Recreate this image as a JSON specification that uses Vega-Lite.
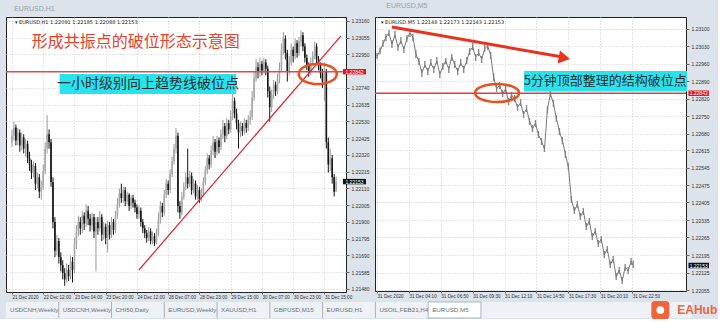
{
"$schema": "https://vega.github.io/schema/vega-lite/v6.json",
"background": "#dce3ea",
"padding": {"left": 4, "top": 1, "right": 0, "bottom": 0},
"config": {
  "view": {"stroke": "#222222", "strokeWidth": 1, "fill": "white"},
  "axis": {"labelOverlap": false, "labelSeparation": 0, "labelFlush": false, "labelBound": false, "tickCount": 60},
  "title": {"font": "Liberation Sans", "fontWeight": "normal", "fontSize": 7, "color": "#97a1ab", "anchor": "start"}
},
"datasets": {
"h1": [
{"i":0,"o":1.2240,"h":1.2248,"l":1.2237,"c":1.2244},
{"i":1,"o":1.2244,"h":1.2253,"l":1.2241,"c":1.2249},
{"i":2,"o":1.2249,"h":1.2251,"l":1.2238,"c":1.2241},
{"i":3,"o":1.2241,"h":1.2249,"l":1.2238,"c":1.2246},
{"i":4,"o":1.2246,"h":1.2248,"l":1.2234,"c":1.2238},
{"i":5,"o":1.2238,"h":1.2246,"l":1.2235,"c":1.2243},
{"i":6,"o":1.2243,"h":1.2245,"l":1.2233,"c":1.2236},
{"i":7,"o":1.2236,"h":1.2242,"l":1.2231,"c":1.2239},
{"i":8,"o":1.2239,"h":1.2241,"l":1.2227,"c":1.2230},
{"i":9,"o":1.2230,"h":1.2234,"l":1.2222,"c":1.2226},
{"i":10,"o":1.2226,"h":1.2229,"l":1.2217,"c":1.2221},
{"i":11,"o":1.2221,"h":1.2228,"l":1.2218,"c":1.2225},
{"i":12,"o":1.2225,"h":1.2227,"l":1.2210,"c":1.2214},
{"i":13,"o":1.2214,"h":1.2221,"l":1.2211,"c":1.2218},
{"i":14,"o":1.2218,"h":1.2220,"l":1.2205,"c":1.2209},
{"i":15,"o":1.2209,"h":1.2216,"l":1.2204,"c":1.2212},
{"i":16,"o":1.2212,"h":1.2226,"l":1.2210,"c":1.2222},
{"i":17,"o":1.2222,"h":1.2240,"l":1.2220,"c":1.2236},
{"i":18,"o":1.2236,"h":1.2257,"l":1.2233,"c":1.2245},
{"i":19,"o":1.2245,"h":1.2248,"l":1.2236,"c":1.2240},
{"i":20,"o":1.2240,"h":1.2242,"l":1.2212,"c":1.2215},
{"i":21,"o":1.2215,"h":1.2218,"l":1.2186,"c":1.2190},
{"i":22,"o":1.2190,"h":1.2193,"l":1.2168,"c":1.2172},
{"i":23,"o":1.2172,"h":1.2182,"l":1.2169,"c":1.2178},
{"i":24,"o":1.2178,"h":1.2180,"l":1.2164,"c":1.2168},
{"i":25,"o":1.2168,"h":1.2171,"l":1.2159,"c":1.2163},
{"i":26,"o":1.2163,"h":1.2166,"l":1.2154,"c":1.2158},
{"i":27,"o":1.2158,"h":1.2161,"l":1.2150,"c":1.2154},
{"i":28,"o":1.2154,"h":1.2164,"l":1.2152,"c":1.2160},
{"i":29,"o":1.2160,"h":1.2163,"l":1.2153,"c":1.2156},
{"i":30,"o":1.2156,"h":1.2169,"l":1.2154,"c":1.2165},
{"i":31,"o":1.2165,"h":1.2168,"l":1.2152,"c":1.2160},
{"i":32,"o":1.2160,"h":1.2180,"l":1.2158,"c":1.2176},
{"i":33,"o":1.2176,"h":1.2188,"l":1.2173,"c":1.2184},
{"i":34,"o":1.2184,"h":1.2194,"l":1.2181,"c":1.2190},
{"i":35,"o":1.2190,"h":1.2193,"l":1.2182,"c":1.2186},
{"i":36,"o":1.2186,"h":1.2197,"l":1.2183,"c":1.2194},
{"i":37,"o":1.2194,"h":1.2196,"l":1.2185,"c":1.2189},
{"i":38,"o":1.2189,"h":1.2201,"l":1.2187,"c":1.2197},
{"i":39,"o":1.2197,"h":1.2200,"l":1.2188,"c":1.2192},
{"i":40,"o":1.2192,"h":1.2195,"l":1.2184,"c":1.2188},
{"i":41,"o":1.2188,"h":1.2196,"l":1.2185,"c":1.2193},
{"i":42,"o":1.2193,"h":1.2195,"l":1.2180,"c":1.2184},
{"i":43,"o":1.2184,"h":1.2193,"l":1.2159,"c":1.2190},
{"i":44,"o":1.2190,"h":1.2193,"l":1.2182,"c":1.2186},
{"i":45,"o":1.2186,"h":1.2197,"l":1.2184,"c":1.2193},
{"i":46,"o":1.2193,"h":1.2195,"l":1.2178,"c":1.2182},
{"i":47,"o":1.2182,"h":1.2190,"l":1.2179,"c":1.2187},
{"i":48,"o":1.2187,"h":1.2189,"l":1.2176,"c":1.2180},
{"i":49,"o":1.2180,"h":1.2191,"l":1.2171,"c":1.2188},
{"i":50,"o":1.2188,"h":1.2190,"l":1.2179,"c":1.2182},
{"i":51,"o":1.2182,"h":1.2193,"l":1.2180,"c":1.2190},
{"i":52,"o":1.2190,"h":1.2192,"l":1.2182,"c":1.2185},
{"i":53,"o":1.2185,"h":1.2197,"l":1.2183,"c":1.2194},
{"i":54,"o":1.2194,"h":1.2205,"l":1.2192,"c":1.2201},
{"i":55,"o":1.2201,"h":1.2211,"l":1.2199,"c":1.2208},
{"i":56,"o":1.2208,"h":1.2214,"l":1.2202,"c":1.2205},
{"i":57,"o":1.2205,"h":1.2212,"l":1.2202,"c":1.2210},
{"i":58,"o":1.2210,"h":1.2212,"l":1.2200,"c":1.2203},
{"i":59,"o":1.2203,"h":1.2209,"l":1.2201,"c":1.2207},
{"i":60,"o":1.2207,"h":1.2208,"l":1.2197,"c":1.2200},
{"i":61,"o":1.2200,"h":1.2207,"l":1.2198,"c":1.2205},
{"i":62,"o":1.2205,"h":1.2207,"l":1.2199,"c":1.2202},
{"i":63,"o":1.2202,"h":1.2204,"l":1.2196,"c":1.2199},
{"i":64,"o":1.2199,"h":1.2201,"l":1.2192,"c":1.2195},
{"i":65,"o":1.2195,"h":1.2200,"l":1.2192,"c":1.2197},
{"i":66,"o":1.2197,"h":1.2199,"l":1.2187,"c":1.2190},
{"i":67,"o":1.2190,"h":1.2192,"l":1.2183,"c":1.2186},
{"i":68,"o":1.2186,"h":1.2188,"l":1.2180,"c":1.2183},
{"i":69,"o":1.2183,"h":1.2185,"l":1.2177,"c":1.2180},
{"i":70,"o":1.2180,"h":1.2187,"l":1.2178,"c":1.2184},
{"i":71,"o":1.2184,"h":1.2186,"l":1.2176,"c":1.2178},
{"i":72,"o":1.2178,"h":1.2184,"l":1.2176,"c":1.2181},
{"i":73,"o":1.2181,"h":1.2183,"l":1.2175,"c":1.2177},
{"i":74,"o":1.2177,"h":1.2186,"l":1.2176,"c":1.2183},
{"i":75,"o":1.2183,"h":1.2196,"l":1.2181,"c":1.2192},
{"i":76,"o":1.2192,"h":1.2203,"l":1.2189,"c":1.2200},
{"i":77,"o":1.2200,"h":1.2202,"l":1.2193,"c":1.2196},
{"i":78,"o":1.2196,"h":1.2210,"l":1.2194,"c":1.2207},
{"i":79,"o":1.2207,"h":1.2217,"l":1.2205,"c":1.2214},
{"i":80,"o":1.2214,"h":1.2216,"l":1.2207,"c":1.2210},
{"i":81,"o":1.2210,"h":1.2223,"l":1.2208,"c":1.2220},
{"i":82,"o":1.2220,"h":1.2231,"l":1.2218,"c":1.2228},
{"i":83,"o":1.2228,"h":1.2239,"l":1.2226,"c":1.2236},
{"i":84,"o":1.2236,"h":1.2249,"l":1.2233,"c":1.2244},
{"i":85,"o":1.2244,"h":1.2246,"l":1.2196,"c":1.2200},
{"i":86,"o":1.2200,"h":1.2203,"l":1.2192,"c":1.2196},
{"i":87,"o":1.2196,"h":1.2209,"l":1.2194,"c":1.2206},
{"i":88,"o":1.2206,"h":1.2215,"l":1.2204,"c":1.2212},
{"i":89,"o":1.2212,"h":1.2221,"l":1.2210,"c":1.2218},
{"i":90,"o":1.2218,"h":1.2236,"l":1.2211,"c":1.2214},
{"i":91,"o":1.2214,"h":1.2222,"l":1.2212,"c":1.2219},
{"i":92,"o":1.2219,"h":1.2221,"l":1.2207,"c":1.2210},
{"i":93,"o":1.2210,"h":1.2217,"l":1.2208,"c":1.2214},
{"i":94,"o":1.2214,"h":1.2216,"l":1.2204,"c":1.2206},
{"i":95,"o":1.2206,"h":1.2213,"l":1.2204,"c":1.2210},
{"i":96,"o":1.2210,"h":1.2212,"l":1.2202,"c":1.2204},
{"i":97,"o":1.2204,"h":1.2211,"l":1.2203,"c":1.2208},
{"i":98,"o":1.2208,"h":1.2218,"l":1.2206,"c":1.2215},
{"i":99,"o":1.2215,"h":1.2225,"l":1.2213,"c":1.2222},
{"i":100,"o":1.2222,"h":1.2233,"l":1.2220,"c":1.2230},
{"i":101,"o":1.2230,"h":1.2232,"l":1.2223,"c":1.2226},
{"i":102,"o":1.2226,"h":1.2238,"l":1.2224,"c":1.2235},
{"i":103,"o":1.2235,"h":1.2244,"l":1.2232,"c":1.2240},
{"i":104,"o":1.2240,"h":1.2242,"l":1.2230,"c":1.2234},
{"i":105,"o":1.2234,"h":1.2244,"l":1.2232,"c":1.2241},
{"i":106,"o":1.2241,"h":1.2243,"l":1.2233,"c":1.2237},
{"i":107,"o":1.2237,"h":1.2248,"l":1.2235,"c":1.2245},
{"i":108,"o":1.2245,"h":1.2254,"l":1.2242,"c":1.2250},
{"i":109,"o":1.2250,"h":1.2252,"l":1.2240,"c":1.2244},
{"i":110,"o":1.2244,"h":1.2255,"l":1.2242,"c":1.2252},
{"i":111,"o":1.2252,"h":1.2254,"l":1.2245,"c":1.2248},
{"i":112,"o":1.2248,"h":1.2260,"l":1.2246,"c":1.2256},
{"i":113,"o":1.2256,"h":1.2271,"l":1.2254,"c":1.2266},
{"i":114,"o":1.2266,"h":1.2268,"l":1.2255,"c":1.2258},
{"i":115,"o":1.2258,"h":1.2261,"l":1.2248,"c":1.2252},
{"i":116,"o":1.2252,"h":1.2254,"l":1.2236,"c":1.2246},
{"i":117,"o":1.2246,"h":1.2253,"l":1.2243,"c":1.2250},
{"i":118,"o":1.2250,"h":1.2252,"l":1.2244,"c":1.2247},
{"i":119,"o":1.2247,"h":1.2255,"l":1.2245,"c":1.2252},
{"i":120,"o":1.2252,"h":1.2254,"l":1.2246,"c":1.2249},
{"i":121,"o":1.2249,"h":1.2257,"l":1.2247,"c":1.2254},
{"i":122,"o":1.2254,"h":1.2260,"l":1.2251,"c":1.2256},
{"i":123,"o":1.2256,"h":1.2272,"l":1.2254,"c":1.2268},
{"i":124,"o":1.2268,"h":1.2284,"l":1.2266,"c":1.2280},
{"i":125,"o":1.2280,"h":1.2292,"l":1.2278,"c":1.2287},
{"i":126,"o":1.2287,"h":1.2290,"l":1.2280,"c":1.2284},
{"i":127,"o":1.2284,"h":1.2293,"l":1.2281,"c":1.2289},
{"i":128,"o":1.2289,"h":1.2291,"l":1.2282,"c":1.2285},
{"i":129,"o":1.2285,"h":1.2293,"l":1.2283,"c":1.2290},
{"i":130,"o":1.2290,"h":1.2292,"l":1.2282,"c":1.2286},
{"i":131,"o":1.2286,"h":1.2288,"l":1.2268,"c":1.2272},
{"i":132,"o":1.2272,"h":1.2275,"l":1.2253,"c":1.2262},
{"i":133,"o":1.2262,"h":1.2273,"l":1.2259,"c":1.2270},
{"i":134,"o":1.2270,"h":1.2279,"l":1.2267,"c":1.2276},
{"i":135,"o":1.2276,"h":1.2278,"l":1.2269,"c":1.2272},
{"i":136,"o":1.2272,"h":1.2283,"l":1.2270,"c":1.2280},
{"i":137,"o":1.2280,"h":1.2290,"l":1.2277,"c":1.2286},
{"i":138,"o":1.2286,"h":1.2302,"l":1.2284,"c":1.2298},
{"i":139,"o":1.2298,"h":1.2309,"l":1.2295,"c":1.2305},
{"i":140,"o":1.2305,"h":1.2307,"l":1.2292,"c":1.2296},
{"i":141,"o":1.2296,"h":1.2298,"l":1.2278,"c":1.2284},
{"i":142,"o":1.2284,"h":1.2294,"l":1.2282,"c":1.2290},
{"i":143,"o":1.2290,"h":1.2302,"l":1.2288,"c":1.2298},
{"i":144,"o":1.2298,"h":1.2300,"l":1.2290,"c":1.2294},
{"i":145,"o":1.2294,"h":1.2305,"l":1.2292,"c":1.2302},
{"i":146,"o":1.2302,"h":1.2304,"l":1.2293,"c":1.2296},
{"i":147,"o":1.2296,"h":1.2306,"l":1.2294,"c":1.2303},
{"i":148,"o":1.2303,"h":1.2310,"l":1.2300,"c":1.2307},
{"i":149,"o":1.2307,"h":1.2309,"l":1.2297,"c":1.2300},
{"i":150,"o":1.2300,"h":1.2302,"l":1.2290,"c":1.2293},
{"i":151,"o":1.2293,"h":1.2295,"l":1.2285,"c":1.2288},
{"i":152,"o":1.2288,"h":1.2290,"l":1.2281,"c":1.2284},
{"i":153,"o":1.2284,"h":1.2293,"l":1.2282,"c":1.2290},
{"i":154,"o":1.2290,"h":1.2297,"l":1.2288,"c":1.2294},
{"i":155,"o":1.2294,"h":1.2303,"l":1.2292,"c":1.2300},
{"i":156,"o":1.2300,"h":1.2302,"l":1.2289,"c":1.2292},
{"i":157,"o":1.2292,"h":1.2294,"l":1.2285,"c":1.2288},
{"i":158,"o":1.2288,"h":1.2290,"l":1.2280,"c":1.2283},
{"i":159,"o":1.2283,"h":1.2286,"l":1.2274,"c":1.2278},
{"i":160,"o":1.2278,"h":1.2290,"l":1.2266,"c":1.2284},
{"i":161,"o":1.2284,"h":1.2286,"l":1.2236,"c":1.2240},
{"i":162,"o":1.2240,"h":1.2243,"l":1.2221,"c":1.2226},
{"i":163,"o":1.2226,"h":1.2236,"l":1.2222,"c":1.2230},
{"i":164,"o":1.2230,"h":1.2232,"l":1.2214,"c":1.2218},
{"i":165,"o":1.2218,"h":1.2220,"l":1.2206,"c":1.2209},
{"i":166,"o":1.22091,"h":1.22185,"l":1.22088,"c":1.22153}
],
"m5": [
{"i":0,"p":1.22991,"l":1.22979,"h":1.23003},{"i":3,"p":1.23011,"l":1.22997,"h":1.23025},{"i":6,"p":1.23039,"l":1.23027,"h":1.23055},
{"i":9,"p":1.23067,"l":1.23051,"h":1.23079},{"i":12,"p":1.23083,"l":1.23071,"h":1.23095},{"i":15,"p":1.23039,"l":1.23023,"h":1.23055},
{"i":18,"p":1.23075,"l":1.23063,"h":1.23091},{"i":21,"p":1.23027,"l":1.23011,"h":1.23039},{"i":24,"p":1.23051,"l":1.23039,"h":1.23067},
{"i":27,"p":1.23019,"l":1.23003,"h":1.23031},{"i":30,"p":1.23059,"l":1.23047,"h":1.23075},{"i":33,"p":1.23083,"l":1.23067,"h":1.23095},
{"i":36,"p":1.23067,"l":1.23051,"h":1.23079},{"i":39,"p":1.22999,"l":1.22983,"h":1.23015},{"i":42,"p":1.22971,"l":1.22955,"h":1.22983},
{"i":45,"p":1.22923,"l":1.22907,"h":1.22939},{"i":48,"p":1.22955,"l":1.22943,"h":1.22971},{"i":51,"p":1.22931,"l":1.22915,"h":1.22943},
{"i":54,"p":1.22963,"l":1.22951,"h":1.22979},{"i":57,"p":1.22939,"l":1.22923,"h":1.22951},{"i":60,"p":1.22971,"l":1.22959,"h":1.22987},
{"i":63,"p":1.22919,"l":1.22903,"h":1.22931},{"i":66,"p":1.22947,"l":1.22935,"h":1.22963},{"i":69,"p":1.22971,"l":1.22959,"h":1.22983},
{"i":72,"p":1.22939,"l":1.22923,"h":1.22951},{"i":75,"p":1.22987,"l":1.22971,"h":1.22999},{"i":78,"p":1.22955,"l":1.22943,"h":1.22971},
{"i":81,"p":1.22931,"l":1.22915,"h":1.22943},{"i":84,"p":1.22963,"l":1.22951,"h":1.22979},{"i":87,"p":1.22939,"l":1.22923,"h":1.22951},
{"i":90,"p":1.22971,"l":1.22959,"h":1.22987},{"i":93,"p":1.23011,"l":1.22995,"h":1.23023},{"i":96,"p":1.23027,"l":1.23015,"h":1.23043},
{"i":99,"p":1.22987,"l":1.22971,"h":1.22999},{"i":102,"p":1.23003,"l":1.22991,"h":1.23019},{"i":105,"p":1.22979,"l":1.22963,"h":1.22991},
{"i":108,"p":1.23019,"l":1.23007,"h":1.23035},{"i":111,"p":1.23031,"l":1.23015,"h":1.23043},{"i":114,"p":1.22995,"l":1.22979,"h":1.23007},
{"i":117,"p":1.22907,"l":1.22891,"h":1.22923},{"i":120,"p":1.22859,"l":1.22847,"h":1.22875},{"i":123,"p":1.22875,"l":1.22859,"h":1.22887},
{"i":126,"p":1.22839,"l":1.22827,"h":1.22855},{"i":129,"p":1.22859,"l":1.22843,"h":1.22871},{"i":132,"p":1.22807,"l":1.22795,"h":1.22823},
{"i":135,"p":1.22835,"l":1.22819,"h":1.22847},{"i":138,"p":1.22819,"l":1.22807,"h":1.22835},{"i":141,"p":1.22787,"l":1.22771,"h":1.22799},
{"i":144,"p":1.22803,"l":1.22791,"h":1.22819},{"i":147,"p":1.22759,"l":1.22743,"h":1.22771},{"i":150,"p":1.22779,"l":1.22767,"h":1.22795},
{"i":153,"p":1.22731,"l":1.22715,"h":1.22743},{"i":156,"p":1.22699,"l":1.22687,"h":1.22715},{"i":159,"p":1.22723,"l":1.22707,"h":1.22735},
{"i":162,"p":1.22675,"l":1.22663,"h":1.22691},{"i":165,"p":1.22651,"l":1.22635,"h":1.22663},{"i":168,"p":1.22619,"l":1.22607,"h":1.22635},
{"i":171,"p":1.22779,"l":1.22763,"h":1.22791},{"i":174,"p":1.22839,"l":1.22827,"h":1.22855},{"i":177,"p":1.22803,"l":1.22787,"h":1.22815},
{"i":180,"p":1.22739,"l":1.22727,"h":1.22755},{"i":183,"p":1.22691,"l":1.22675,"h":1.22703},{"i":186,"p":1.22651,"l":1.22639,"h":1.22667},
{"i":189,"p":1.22599,"l":1.22583,"h":1.22611},{"i":192,"p":1.22547,"l":1.22535,"h":1.22563},{"i":195,"p":1.22419,"l":1.22403,"h":1.22431},
{"i":198,"p":1.22371,"l":1.22359,"h":1.22387},{"i":201,"p":1.22399,"l":1.22383,"h":1.22411},{"i":204,"p":1.22347,"l":1.22335,"h":1.22363},
{"i":207,"p":1.22371,"l":1.22355,"h":1.22383},{"i":210,"p":1.22307,"l":1.22295,"h":1.22323},{"i":213,"p":1.22331,"l":1.22315,"h":1.22343},
{"i":216,"p":1.22267,"l":1.22255,"h":1.22283},{"i":219,"p":1.22291,"l":1.22275,"h":1.22303},{"i":222,"p":1.22239,"l":1.22227,"h":1.22255},
{"i":225,"p":1.22259,"l":1.22243,"h":1.22271},{"i":228,"p":1.22195,"l":1.22183,"h":1.22211},{"i":231,"p":1.22219,"l":1.22203,"h":1.22231},
{"i":234,"p":1.22155,"l":1.22143,"h":1.22171},{"i":237,"p":1.22179,"l":1.22163,"h":1.22191},{"i":240,"p":1.22107,"l":1.22095,"h":1.22123},
{"i":243,"p":1.22135,"l":1.22119,"h":1.22147},{"i":246,"p":1.22091,"l":1.22079,"h":1.22107},{"i":249,"p":1.22147,"l":1.22131,"h":1.22159},
{"i":252,"p":1.22131,"l":1.22119,"h":1.22147},{"i":255,"p":1.22171,"l":1.22155,"h":1.22183},{"i":257,"p":1.22153,"l":1.22143,"h":1.22173}
]
},
"vconcat": [
{
"hconcat": [
{
"title": {"text": "EURUSD,H1", "offset": 5, "dx": 9},
"width": 340,
"height": 275,
"layer": [
{
"data": {"name": "h1"},
"mark": {"type": "rule", "strokeWidth": 1},
"encoding": {
"x": {"field": "i", "type": "quantitative", "scale": {"domain": [-0.5, 168.5], "nice": false, "zero": false},
"axis": {"values": [0,16,32,48,64,80,96,112,128,144,160], "tickCount": 60, "labelExpr": "['21 Dec 2020','22 Dec 12:00','23 Dec 04:00','23 Dec 20:00','24 Dec 12:00','28 Dec 07:00','28 Dec 23:00','29 Dec 15:00','30 Dec 07:00','30 Dec 23:00','31 Dec 15:00'][datum.value/16]", "title": null, "labelFont": "Liberation Sans", "labelFontSize": 4.6, "labelColor": "#333333", "labelAlign": "left", "labelPadding": 0, "tickSize": 2, "tickColor": "#666666", "domain": false, "grid": true, "gridColor": "#cdcdcd", "gridDash": [1,2], "labelFlush": false, "labelOverlap": false, "zindex": 0}},
"y": {"field": "l", "type": "quantitative", "scale": {"domain": [1.21461, 1.23185], "nice": false, "zero": false},
"axis": {"orient": "right", "values": [1.2148,1.21585,1.2169,1.21795,1.219,1.22005,1.2211,1.22215,1.2232,1.22425,1.2253,1.22635,1.2274,1.2295,1.23055,1.2316], "tickCount": 60, "format": ".5f", "title": null, "labelFont": "Liberation Sans", "labelFontSize": 5, "labelColor": "#333333", "labelPadding": 2, "tickSize": 3, "tickColor": "#666666", "domain": false, "grid": true, "gridColor": "#cdcdcd", "gridDash": [1,2], "labelFlush": false, "labelOverlap": false, "zindex": 0}},
"y2": {"field": "h"},
"color": {"condition": {"test": "datum.c >= datum.o", "value": "#9a9a9a"}, "value": "#151515"}
}
},
{
"data": {"name": "h1"},
"mark": {"type": "bar", "width": 1.6},
"encoding": {
"x": {"field": "i", "type": "quantitative"},
"y": {"field": "o", "type": "quantitative"},
"y2": {"field": "c"},
"color": {"condition": {"test": "datum.c >= datum.o", "value": "#a8a8a8"}, "value": "#151515"}
}
},
{
"data": {"values": [{"p": 1.22842}]},
"mark": {"type": "rule", "color": "#e04a48", "strokeWidth": 1.6},
"encoding": {"y": {"field": "p", "type": "quantitative"}}
},
{
"data": {"values": [{"i": 65, "p": 1.21599}, {"i": 168.5, "p": 1.23066}]},
"mark": {"type": "line", "color": "#e0202a", "strokeWidth": 1.2},
"encoding": {"x": {"field": "i", "type": "quantitative"}, "y": {"field": "p", "type": "quantitative"}}
},
{
"data": {"values": [{"i": 156.6, "p": 1.22828}]},
"mark": {"type": "point", "shape": "M-1,0A1,0.53,0,1,1,1,0A1,0.53,0,1,1,-1,0Z", "size": 1444, "filled": false, "stroke": "#e8501e", "strokeWidth": 2.5, "opacity": 1},
"encoding": {"x": {"field": "i", "type": "quantitative"}, "y": {"field": "p", "type": "quantitative"}}
},
{
"data": {"values": [{"i1": 24.4, "i2": 114.8, "p1": 1.22702, "p2": 1.22828}]},
"mark": {"type": "rect", "color": "#26e3ee"},
"encoding": {"x": {"field": "i1", "type": "quantitative"}, "x2": {"field": "i2"}, "y": {"field": "p1", "type": "quantitative"}, "y2": {"field": "p2"}}
},
{
"data": {"values": [{"i": 69.6, "p": 1.22765, "t": "一小时级别向上趋势线破位点"}]},
"mark": {"type": "text", "font": "Noto Sans CJK SC", "fontSize": 14, "color": "#2b2b2b", "align": "center", "baseline": "middle"},
"encoding": {"x": {"field": "i", "type": "quantitative"}, "y": {"field": "p", "type": "quantitative"}, "text": {"field": "t"}}
},
{
"data": {"values": [{"i": 63.4, "p": 1.2303, "t": "形成共振点的破位形态示意图"}]},
"mark": {"type": "text", "font": "Noto Sans CJK SC", "fontSize": 16, "color": "#e8412c", "align": "center", "baseline": "middle"},
"encoding": {"x": {"field": "i", "type": "quantitative"}, "y": {"field": "p", "type": "quantitative"}, "text": {"field": "t"}}
},
{
"data": {"values": [{"i": 1.5, "p": 1.23154, "t": "▾ EURUSD,H1  1.22091 1.22185 1.22088 1.22153"}]},
"mark": {"type": "text", "font": "DejaVu Sans", "fontSize": 5, "color": "#222222", "align": "left", "baseline": "middle"},
"encoding": {"x": {"field": "i", "type": "quantitative"}, "y": {"field": "p", "type": "quantitative"}, "text": {"field": "t"}}
},
{
"data": {"values": [{"k": "line", "i1": 169.5, "i2": 181.3, "p1": 1.22825, "p2": 1.22859}, {"k": "bid", "i1": 169.5, "i2": 181.3, "p1": 1.22136, "p2": 1.2217}]},
"mark": {"type": "rect"},
"encoding": {"x": {"field": "i1", "type": "quantitative"}, "x2": {"field": "i2"}, "y": {"field": "p1", "type": "quantitative"}, "y2": {"field": "p2"},
"color": {"field": "k", "type": "nominal", "scale": {"domain": ["line", "bid"], "range": ["#e8141c", "#111111"]}, "legend": null}}
},
{
"data": {"values": [{"i": 175.4, "p": 1.22842, "t": "1.22842"}, {"i": 175.4, "p": 1.22153, "t": "1.22153"}]},
"mark": {"type": "text", "font": "Liberation Sans", "fontSize": 5, "color": "white", "align": "center", "baseline": "middle"},
"encoding": {"x": {"field": "i", "type": "quantitative"}, "y": {"field": "p", "type": "quantitative"}, "text": {"field": "t"}}
}
]
},
{
"title": {"text": "EURUSD,M5", "offset": 8, "dx": 12},
"width": 311,
"height": 274,
"layer": [
{
"data": {"name": "m5"},
"mark": {"type": "rule", "color": "#8a8a8a", "strokeWidth": 1.4},
"encoding": {
"x": {"field": "i", "type": "quantitative", "scale": {"domain": [-2, 310], "nice": false, "zero": false},
"axis": {"values": [0,32,64,96,128,160,192,224,256], "tickCount": 60, "labelExpr": "['31 Dec 2020','31 Dec 04:10','31 Dec 06:50','31 Dec 09:30','31 Dec 12:10','31 Dec 14:50','31 Dec 17:30','31 Dec 20:10','31 Dec 22:50'][datum.value/32]", "title": null, "labelFont": "Liberation Sans", "labelFontSize": 4.6, "labelColor": "#333333", "labelAlign": "left", "labelPadding": 0, "tickSize": 2, "tickColor": "#666666", "domain": false, "grid": true, "gridColor": "#cdcdcd", "gridDash": [1,2], "labelFlush": false, "labelOverlap": false, "zindex": 0}},
"y": {"field": "l", "type": "quantitative", "scale": {"domain": [1.22051, 1.23147], "nice": false, "zero": false},
"axis": {"orient": "right", "values": [1.22055,1.22125,1.22195,1.22265,1.22335,1.22405,1.22475,1.22545,1.22615,1.2268,1.2275,1.2282,1.2289,1.2296,1.2303,1.231], "tickCount": 60, "format": ".5f", "title": null, "labelFont": "Liberation Sans", "labelFontSize": 5, "labelColor": "#333333", "labelPadding": 2, "tickSize": 3, "tickColor": "#666666", "domain": false, "grid": true, "gridColor": "#cdcdcd", "gridDash": [1,2], "labelFlush": false, "labelOverlap": false, "zindex": 0}},
"y2": {"field": "h"}
}
},
{
"data": {"name": "m5"},
"mark": {"type": "line", "color": "#7a7a7a", "strokeWidth": 1},
"encoding": {"x": {"field": "i", "type": "quantitative"}, "y": {"field": "p", "type": "quantitative"}}
},
{
"data": {"values": [{"p": 1.22842}]},
"mark": {"type": "rule", "color": "#e03c3c", "strokeWidth": 1.5},
"encoding": {"y": {"field": "p", "type": "quantitative"}}
},
{
"data": {"values": [{"i": 15, "p": 1.23107}, {"i": 186, "p": 1.22987}]},
"mark": {"type": "line", "color": "#e8321c", "strokeWidth": 3},
"encoding": {"x": {"field": "i", "type": "quantitative"}, "y": {"field": "p", "type": "quantitative"}}
},
{
"data": {"values": [{"i": 188, "p": 1.22983}]},
"mark": {"type": "point", "shape": "triangle-right", "size": 170, "filled": true, "color": "#e8321c", "opacity": 1, "angle": 10},
"encoding": {"x": {"field": "i", "type": "quantitative"}, "y": {"field": "p", "type": "quantitative"}}
},
{
"data": {"values": [{"i": 120.5, "p": 1.22843}]},
"mark": {"type": "point", "shape": "M-1,0A1,0.41,0,1,1,1,0A1,0.41,0,1,1,-1,0Z", "size": 1936, "filled": false, "stroke": "#e8501e", "strokeWidth": 2.5, "opacity": 1},
"encoding": {"x": {"field": "i", "type": "quantitative"}, "y": {"field": "p", "type": "quantitative"}}
},
{
"data": {"values": [{"i1": 147.5, "i2": 311, "p1": 1.22849, "p2": 1.22931}]},
"mark": {"type": "rect", "color": "#26e3ee"},
"encoding": {"x": {"field": "i1", "type": "quantitative"}, "x2": {"field": "i2"}, "y": {"field": "p1", "type": "quantitative"}, "y2": {"field": "p2"}}
},
{
"data": {"values": [{"i": 229, "p": 1.2289, "t": "5分钟顶部整理的结构破位点"}]},
"mark": {"type": "text", "font": "Noto Sans CJK SC", "fontSize": 13, "color": "#2b2b2b", "align": "center", "baseline": "middle"},
"encoding": {"x": {"field": "i", "type": "quantitative"}, "y": {"field": "p", "type": "quantitative"}, "text": {"field": "t"}}
},
{
"data": {"values": [{"i": 4, "p": 1.23127, "t": "▾ EURUSD,M5  1.22148 1.22173 1.22143 1.22153"}]},
"mark": {"type": "text", "font": "DejaVu Sans", "fontSize": 5, "color": "#222222", "align": "left", "baseline": "middle"},
"encoding": {"x": {"field": "i", "type": "quantitative"}, "y": {"field": "p", "type": "quantitative"}, "text": {"field": "t"}}
},
{
"data": {"values": [{"k": "line", "i1": 312.5, "i2": 333, "p1": 1.22831, "p2": 1.22853}, {"k": "bid", "i1": 312.5, "i2": 333, "p1": 1.22142, "p2": 1.22164}]},
"mark": {"type": "rect"},
"encoding": {"x": {"field": "i1", "type": "quantitative"}, "x2": {"field": "i2"}, "y": {"field": "p1", "type": "quantitative"}, "y2": {"field": "p2"},
"color": {"field": "k", "type": "nominal", "scale": {"domain": ["line", "bid"], "range": ["#e8141c", "#111111"]}, "legend": null}}
},
{
"data": {"values": [{"i": 322.7, "p": 1.22842, "t": "1.22842"}, {"i": 322.7, "p": 1.22153, "t": "1.22153"}]},
"mark": {"type": "text", "font": "Liberation Sans", "fontSize": 5, "color": "white", "align": "center", "baseline": "middle"},
"encoding": {"x": {"field": "i", "type": "quantitative"}, "y": {"field": "p", "type": "quantitative"}, "text": {"field": "t"}}
}
]
}
],
"spacing": 3
},
{
"width": 686,
"height": 16,
"view": {"fill": "#eef1f5", "stroke": null},
"layer": [
{
"data": {"values": [{"k": "t8"}]},
"mark": {"type": "rect", "fill": "white", "stroke": "#9aa4ae", "strokeWidth": 0.8},
"encoding": {"x": {"field": "k", "type": "ordinal", "scale": {"domain": ["t0","t1","t2","t3","t4","t5","t6","t7","t8","g9","g10","g11","brand"], "paddingInner": 0, "paddingOuter": 0}, "axis": null}}
},
{
"data": {"values": [{"k": "t1"}, {"k": "t2"}, {"k": "t3"}, {"k": "t4"}, {"k": "t5"}, {"k": "t6"}, {"k": "t7"}]},
"mark": {"type": "rule", "color": "#a9b2bc", "strokeWidth": 1},
"encoding": {"x": {"field": "k", "type": "ordinal", "bandPosition": 0}}
},
{
"data": {"values": [
{"k": "t0", "label": "USDCNH,Weekly"},
{"k": "t1", "label": "USDCNH,Weekly"},
{"k": "t2", "label": "CHI50,Daily"},
{"k": "t3", "label": "EURUSD,Weekly"},
{"k": "t4", "label": "XAUUSD,H1"},
{"k": "t5", "label": "GBPUSD,M15"},
{"k": "t6", "label": "EURUSD,H1"},
{"k": "t7", "label": "USOIL,FEB21,H4"},
{"k": "t8", "label": "EURUSD,M5"}
]},
"mark": {"type": "text", "font": "Liberation Sans", "fontSize": 6.2, "color": "#66717c", "align": "left", "baseline": "middle", "dx": 4},
"encoding": {"x": {"field": "k", "type": "ordinal", "bandPosition": 0}, "text": {"field": "label"}}
},
{
"data": {"values": [{"k": "brand"}]},
"mark": {"type": "point", "shape": "M-1,-0.6Q-1,-1,-0.6,-1L0.6,-1Q1,-1,1,-0.6L1,0.6Q1,1,0.6,1L-0.6,1Q-1,1,-1,0.6Z", "size": 324, "filled": true, "color": "#f0643c", "opacity": 1},
"encoding": {"x": {"field": "k", "type": "ordinal", "bandPosition": 0.4}}
},
{
"data": {"values": [{"k": "brand"}]},
"mark": {"type": "point", "shape": "circle", "size": 60, "filled": true, "color": "white", "opacity": 1},
"encoding": {"x": {"field": "k", "type": "ordinal", "bandPosition": 0.4}}
},
{
"data": {"values": [{"k": "brand", "t": "EAHub"}]},
"mark": {"type": "text", "font": "Liberation Sans", "fontSize": 12, "fontWeight": "bold", "color": "#f0643c", "align": "left", "baseline": "middle", "dx": 38},
"encoding": {"x": {"field": "k", "type": "ordinal", "bandPosition": 0}, "text": {"field": "t"}}
}
]
}
],
"spacing": 1
}
